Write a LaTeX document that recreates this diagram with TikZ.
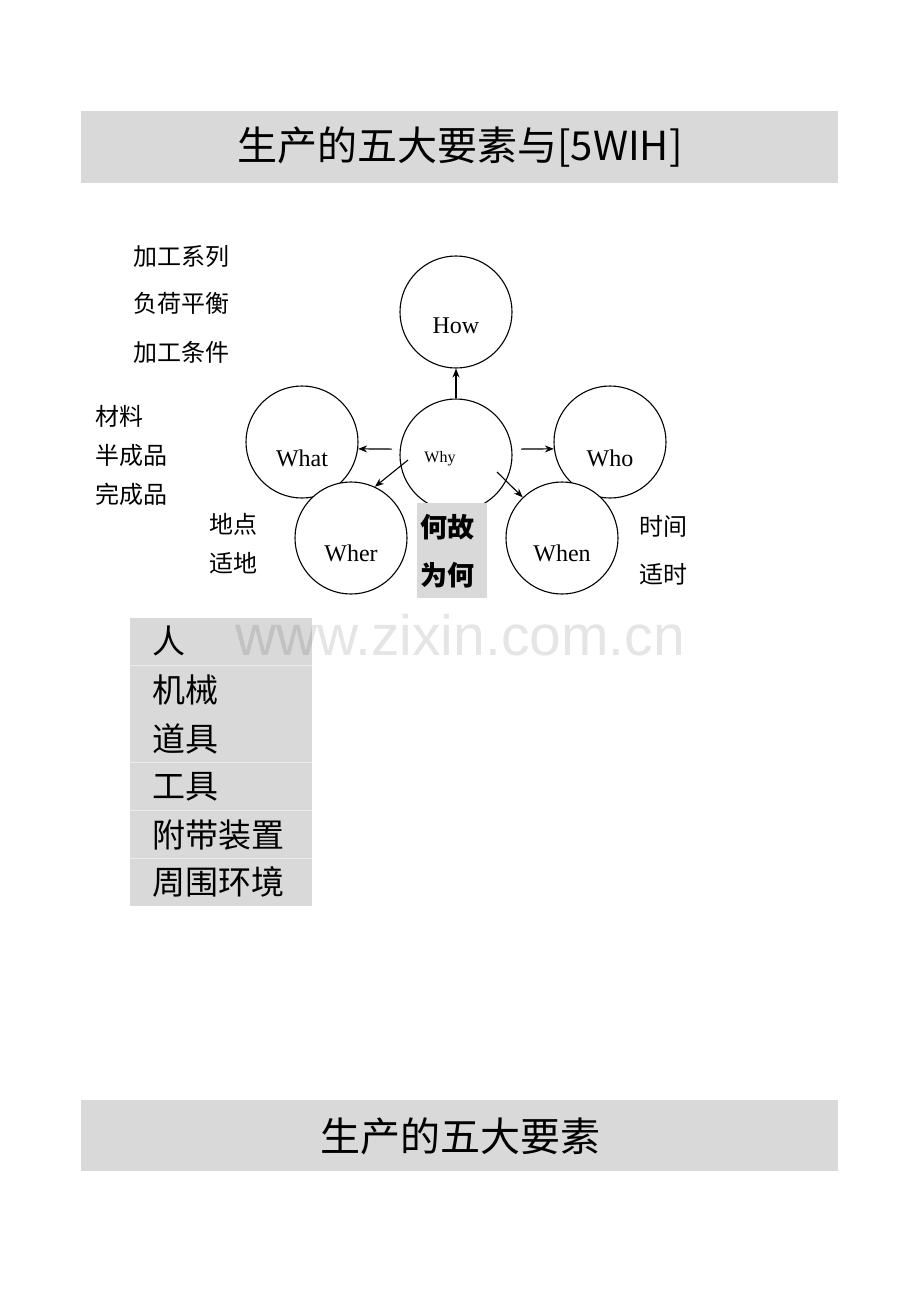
\documentclass[tikz,border=0pt]{standalone}
\usepackage{fontspec}
\setmainfont{Liberation Serif}
\newfontfamily\cjk{Noto Sans CJK SC}
\newfontfamily\webfont{Liberation Sans}
\usetikzlibrary{arrows.meta}
\definecolor{bargray}{RGB}{217,217,217}

\begin{document}
\begin{tikzpicture}[x=1pt,y=-1pt,
  bubble/.style={circle,draw,fill=white,line width=1.1pt,minimum size=112pt,inner sep=0pt},
  inword/.style={anchor=base,inner sep=0pt,font=\fontsize{24}{24}\selectfont},
  arr/.style={line width=1.1pt,-{Stealth[length=9pt,width=7pt]}},
  side/.style={anchor=west,inner sep=0pt,font=\cjk\fontsize{24}{24}\selectfont},
  reason/.style={anchor=west,inner sep=0pt,font=\cjk\bfseries\fontsize{27}{27}\selectfont},
  listword/.style={anchor=west,inner sep=0pt,font=\cjk\fontsize{33}{33}\selectfont},
  titleword/.style={inner sep=0pt,font=\cjk\fontsize{40}{40}\selectfont}]
\useasboundingbox (0,0) rectangle (920,1302);
\fill[bargray] (81,111) rectangle (838,183);
\node[titleword] (title) at (460,147) {生产的五大要素与[5WIH]};
\node[side] (proc1) at (133,256) {加工系列};
\node[side] (proc2) at (133,303) {负荷平衡};
\node[side] (proc3) at (133,352) {加工条件};
\node[side] (mat1) at (95,416) {材料};
\node[side] (mat2) at (95,455) {半成品};
\node[side] (mat3) at (95,494) {完成品};
\node[side] (place1) at (209,524) {地点};
\node[side] (place2) at (209,563) {适地};
\node[side] (time1) at (639,526) {时间};
\node[side] (time2) at (639,574) {适时};
\node[bubble] (what) at (302,442) {};
\node[bubble] (wher) at (351,538) {};
\node[bubble] (why) at (456,455) {};
\node[bubble] (who) at (610,442) {};
\node[bubble] (when) at (562,538) {};
\node[bubble] (how) at (456,312) {};
\node[inword] (how-t) at (456,333) {How};
\node[inword] (what-t) at (302,466) {What};
\node[inword,font=\fontsize{16}{16}\selectfont] (why-t) at (440,462) {Why};
\node[inword] (who-t) at (610,466) {Who};
\node[inword] (wher-t) at (351,561) {Wher};
\node[inword] (when-t) at (562,561) {When};
\draw[arr] (why.north) -- (how.south);
\draw[arr,shorten <=8pt] (why.174) -- (what.-7);
\draw[arr,shorten <=9pt] (why.6) -- (who.187);
\draw[arr] ([shift={(-48,5)}]why.center) -- (wher.65);
\draw[arr] ([shift={(41,17)}]why.center) -- (when.134);
\fill[bargray] (417,503) rectangle (487,598);
\node[reason] (why1) at (420,527) {何故};
\node[reason] (why2) at (420,575) {为何};
\fill[bargray] (130,618) rectangle (312,906);
\foreach \y in {665,762,810,858}
  \draw[white!50!bargray,line width=0.8pt] (130,\y) -- (312,\y);
\foreach \t/\y in {人/641,机械/690,道具/739,工具/787,附带装置/835,周围环境/882}
  \node[listword] (item\y) at (152,\y) {\t};
\node[font=\webfont\fontsize{57}{57}\selectfont,text=black,text opacity=0.1,inner sep=0pt] (mark) at (460,635) {www.zixin.com.cn};
\fill[bargray] (81,1100) rectangle (838,1171);
\node[titleword] (title2) at (460,1136) {生产的五大要素};
\end{tikzpicture}
\end{document}
